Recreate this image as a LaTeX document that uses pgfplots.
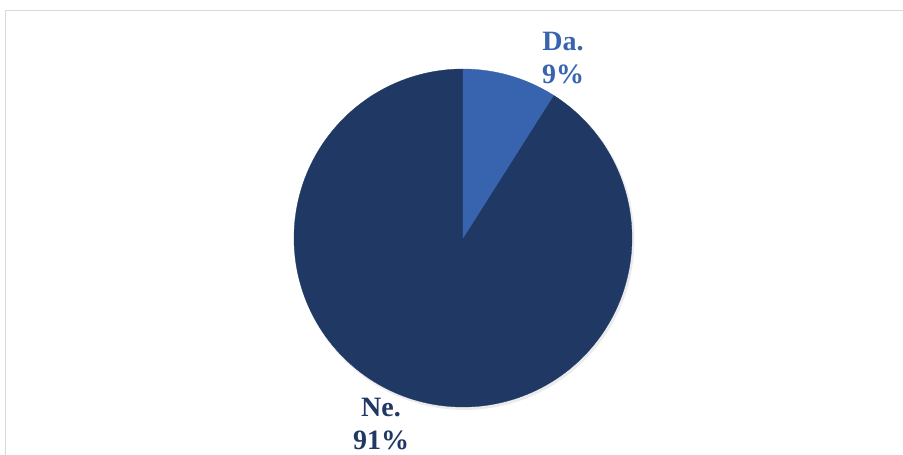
\documentclass[border=0pt]{standalone}
\usepackage{pgfplots}
\usepackage{pgfplotstable}
\pgfplotsset{compat=1.18}
\usepackage{fontspec}
\setmainfont{Liberation Serif}
\definecolor{dablue}{HTML}{3864AF}
\definecolor{nenavy}{HTML}{203864}
\definecolor{framegray}{HTML}{D9D9D9}
\pgfplotstableread{
label value
Da. 9
Ne. 91
}\pietable
\begin{document}%
\begin{tikzpicture}
\pgfplotstablegetelem{0}{value}\of\pietable \let\vda\pgfplotsretval
\pgfplotstablegetelem{1}{value}\of\pietable \let\vne\pgfplotsretval
\pgfmathsetmacro{\aA}{90}
\pgfmathsetmacro{\aB}{90-3.6*\vda}
\pgfmathsetmacro{\aC}{\aB-3.6*\vne}
\useasboundingbox (0,0) rectangle (903pt,455pt);
\clip (0,0) rectangle (903pt,455pt);
\begin{axis}[
  at={(0,0)}, anchor=origin,
  scale only axis, width=903pt, height=455pt,
  xmin=0, xmax=903, ymin=0, ymax=455,
  hide axis, clip=false,
]
% frame
\draw[framegray, line width=1.2pt] (5.5,-20) -- (5.5,444.5) -- (930,444.5);
% shadow
\addplot[fill=black, fill opacity=0.08, draw=none, domain=0:360, samples=120]
  ({464.5+170*cos(x)}, {215+170*sin(x)});
% slices
\addplot[fill=nenavy, draw=nenavy, line width=0.3pt, domain=\aC:\aB, samples=200]
  ({463+169*cos(x)}, {217+169*sin(x)}) -- (463,217) -- cycle;
\addplot[fill=dablue, draw=dablue, line width=0.3pt, domain=\aB:\aA, samples=40]
  ({463+169*cos(x)}, {217+169*sin(x)}) -- (463,217) -- cycle;
% labels
\node[text=dablue, font=\fontsize{28}{33}\selectfont\bfseries, align=center] at (563,397) {Da.\\\vda\%};
\node[text=nenavy, font=\fontsize{28}{33}\selectfont\bfseries, align=center] at (381,31) {Ne.\\\vne\%};
\end{axis}
\end{tikzpicture}%
\end{document}
